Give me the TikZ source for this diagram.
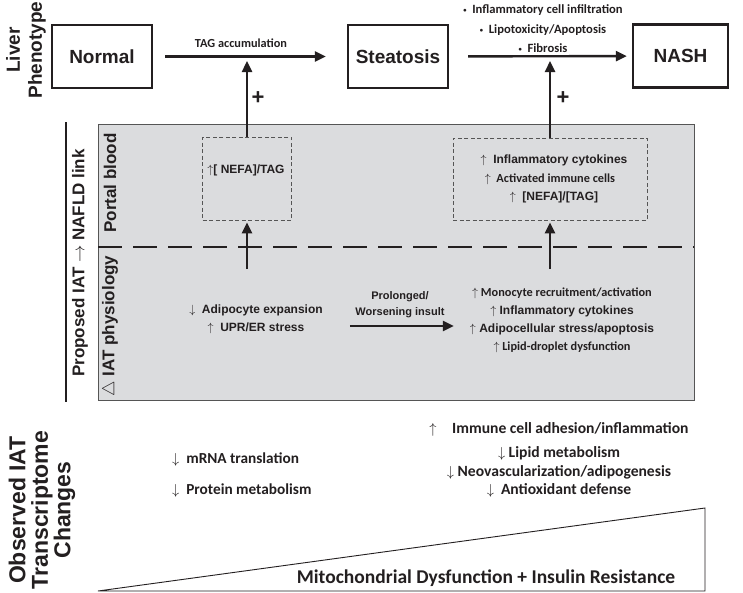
\documentclass[tikz,border=0pt]{standalone}
\usepackage{fontspec}
\setmainfont{Liberation Sans}
\newfontfamily\calibfont{Carlito}
\usepackage{tikz}
\tikzset{>=latex}
\usetikzlibrary{arrows.meta}
\definecolor{panelgray}{RGB}{219,220,222}
\definecolor{panelline}{RGB}{85,85,85}
\definecolor{inkblack}{RGB}{35,31,32}
\newcommand{\dotmark}{\raisebox{1pt}{\fontsize{6.5}{6.5}\selectfont\textbullet}\ \ }
\tikzset{
  phase/.style={draw,line width=2.4pt,minimum width=100pt,minimum height=63pt,inner sep=0pt,font=\bfseries\fontsize{19}{22}\selectfont},
  arl/.style={font=\bfseries\fontsize{12}{18}\selectfont,align=center,inner sep=0pt},
  cal/.style={font=\calibfont\bfseries\fontsize{12}{19.5}\selectfont,align=center,inner sep=0pt},
  sidelabel/.style={rotate=90,font=\bfseries\fontsize{17}{22}\selectfont,align=center,inner sep=0pt},
  pool/.style={draw=panelline,dash pattern=on 4pt off 2.5pt,line width=0.7pt,inner sep=0pt},
  push/.style={-{Triangle[length=11pt,width=10pt]},line width=2.4pt},
}

\begin{document}
\begin{tikzpicture}[x=1pt,y=-1pt,color=inkblack,line join=miter]
			\useasboundingbox (0,0) rectangle (743,592);
			\fill[white] (0,0) rectangle (743,592);
			% liver row
			\node[sidelabel,font=\bfseries\fontsize{19}{22}\selectfont] (liver) at (26,50) {Liver\\Phenotype};
			\node[phase] (normal) at (102,56.5) {Normal};
			\node[phase] (steatosis) at (398,56.5) {Steatosis};
			\node[phase,minimum width=95pt] (nash) at (680.5,56) {NASH};
			\draw[push,shorten <=12pt,shorten >=21pt] (normal) -- (steatosis);
			\draw[push,shorten <=19pt,shorten >=5pt] (steatosis) -- (nash);
			\node[cal,font=\calibfont\bfseries\fontsize{12.3}{19.5}\selectfont] (tagacc) at (241,43) {TAG accumulation};
			\node[cal,font=\calibfont\bfseries\fontsize{12.6}{19.5}\selectfont] (hits) at (543,29) {\dotmark Inflammatory cell infiltration\\ \dotmark Lipotoxicity/Apoptosis\\ \dotmark Fibrosis};
			% proposed link panel
			\draw[line width=2.6pt] (66,122) -- (66,402);
			\node[sidelabel] (proposed) at (80,263) {Proposed IAT $\rightarrow$ NAFLD link};
			\draw[draw=panelline,fill=panelgray,line width=1pt] (98,124) rectangle (694,400);
			\draw[line width=2.8pt,dash pattern=on 24pt off 11pt] (98,247) -- (694,247);
			\node[sidelabel] (portal) at (110,183) {Portal blood};
			\node[sidelabel] (physio) at (110,326) {$\triangle$ IAT physiology};
			\node[pool,minimum width=89pt,minimum height=83pt] (nefa) at (247,178.5) {};
			\node[arl] (nefatxt) at (246,170) {$\uparrow$[ NEFA]/TAG};
			\node[pool,minimum width=194pt,minimum height=82pt,align=center,font=\bfseries\fontsize{12}{18.5}\selectfont] (cyto) at (550,179)
				{\hspace*{8pt}$\uparrow$\ \ Inflammatory cytokines\\ {\calibfont\fontsize{12.3}{18.5}\selectfont$\uparrow$\ \ Activated immune cells}\\ \hspace*{8pt}$\uparrow$\ \ [NEFA]/[TAG]};
			\coordinate (tagtip) at (247,61);
			\coordinate (inftip) at (550,61);
			\draw[push] (nefa) -- (tagtip);
			\draw[push] (cyto) -- (inftip);
			\node[font=\bfseries\fontsize{22}{22}\selectfont,inner sep=0pt] (plusa) at (258,98) {+};
			\node[font=\bfseries\fontsize{22}{22}\selectfont,inner sep=0pt] (plusb) at (563,98) {+};
			\coordinate (iatl) at (247,269);
			\coordinate (iatr) at (550,269);
			\draw[push,shorten >=2pt] (iatl) -- (nefa);
			\draw[push,shorten >=2pt] (iatr) -- (cyto);
			\node[arl] (iatmild) at (256,319) {$\downarrow$\ \ Adipocyte expansion\\ $\uparrow$\ \ UPR/ER stress};
			\node[arl,font=\bfseries\fontsize{11}{16}\selectfont] (insult) at (400,305) {Prolonged/\\ Worsening insult};
			\node[arl] (iatsevere) at (562,320) {{\calibfont\fontsize{12.3}{18}\selectfont$\uparrow$ Monocyte recruitment/activation}\\ $\uparrow$ Inflammatory cytokines\\ $\uparrow$ Adipocellular stress/apoptosis\\ {\calibfont\fontsize{12.3}{18}\selectfont$\uparrow$ Lipid-droplet dysfunction}};
			\draw[push,shorten <=27pt,shorten >=16pt] ([yshift=-7pt]iatmild.east) -- ([yshift=-6pt]iatsevere.west);
			% transcriptome row
			\node[sidelabel,font=\bfseries\fontsize{23}{22.5}\selectfont] (observed) at (42,510) {Observed IAT\\Transcriptome\\Changes};
			\node[cal,align=left,anchor=west,font=\calibfont\bfseries\fontsize{15.3}{31}\selectfont] (downlist) at (172,475.5) {$\downarrow$\ \ mRNA translation\\ $\downarrow$\ \ Protein metabolism};
			\node[cal,font=\calibfont\bfseries\fontsize{15.6}{18.5}\selectfont] (mixlist) at (559,460) {$\uparrow$\quad Immune cell adhesion/inflammation\\[6pt] $\downarrow$ Lipid metabolism\\ $\downarrow$ Neovascularization/adipogenesis\\ $\downarrow$\ \ Antioxidant defense};
			\draw[line width=0.9pt] (98,591) -- (705,508) -- (705,591) -- cycle;
			\node[cal,font=\calibfont\bfseries\fontsize{19.5}{22}\selectfont] (mito) at (486,578) {Mitochondrial Dysfunction + Insulin Resistance};
		\end{tikzpicture}
\end{document}
